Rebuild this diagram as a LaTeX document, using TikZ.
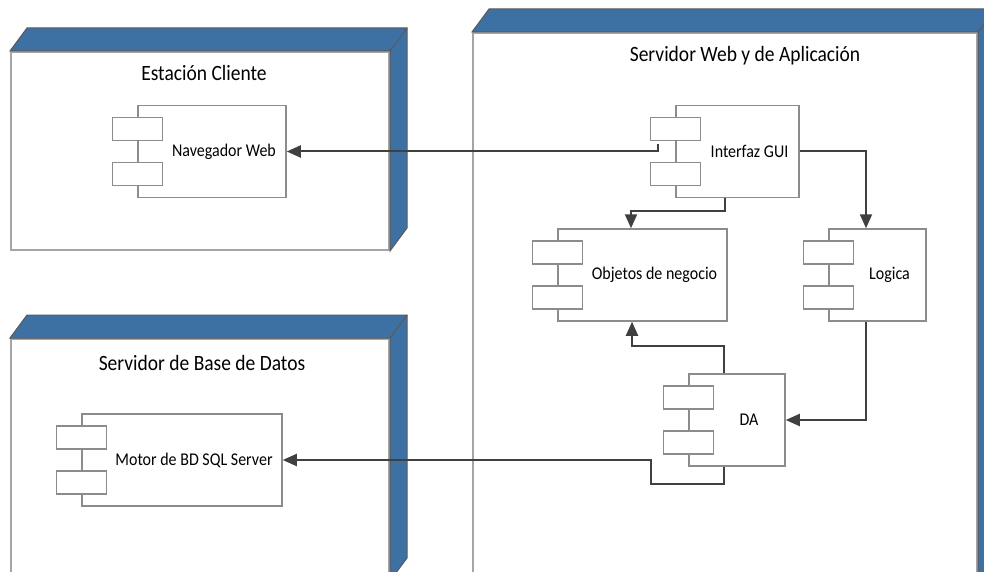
\documentclass[tikz,border=0pt]{standalone}
\usepackage{fontspec}
\setmainfont{Carlito}
\usetikzlibrary{arrows.meta,positioning}

\definecolor{nodeblue}{RGB}{61,112,163}
\definecolor{framegray}{RGB}{165,165,165}
\definecolor{edgegray}{RGB}{90,90,90}
\definecolor{compgray}{RGB}{140,140,140}
\definecolor{wiregray}{RGB}{64,64,64}

\tikzset{
  srvbox/.style={draw=framegray, line width=2pt, fill=white, inner sep=0pt},
  srvtitle/.style={font=\fontsize{19.5}{21}\selectfont, anchor=base, inner sep=0pt,
    yscale=1.12, transform shape},
  comp/.style={draw=compgray, line width=1.5pt, fill=white, inner sep=0pt, minimum height=92pt,
    label={[font=\fontsize{16}{18}\selectfont, xshift=12pt, yscale=1.12, transform shape]center:#1}},
  port/.style={draw=compgray, line width=1.5pt, fill=white, minimum width=50pt, minimum height=23pt, inner sep=0pt},
  wire/.style={draw=wiregray, line width=2pt, -{Triangle[length=14pt,width=12pt]}}
}

\begin{document}
\begin{tikzpicture}[x=1pt,y=-1pt]
\useasboundingbox (0,0) rectangle (984,572);
\clip (0,0) rectangle (984,572);

% nodos de despliegue
\node[srvbox, minimum width=378pt, minimum height=198pt] (cliente) at (200,151) {};
\node[srvbox, minimum width=504pt, minimum height=567pt] (web) at (725,316.5) {};
\node[srvbox, minimum width=378pt, minimum height=241pt] (bd) at (200,459.5) {};
\foreach \n in {cliente,web,bd}{
  \filldraw[fill=nodeblue, draw=edgegray, line width=1pt]
    (\n.north west) -- ++(17,-23) -- ([shift={(17,-23)}]\n.north east)
    -- ([shift={(17,-23)}]\n.south east) -- (\n.south east) -- (\n.north east) -- cycle;
  \draw[edgegray, line width=1pt] (\n.north east) -- ++(17,-23);
}
\node[srvtitle] (tcliente) at ([xshift=4pt,yshift=-30pt]cliente.north) {Estación Cliente};
\node[srvtitle] (tweb) at ([xshift=20pt,yshift=-30pt]web.north) {Servidor Web y de Aplicación};
\node[srvtitle] (tbd) at ([xshift=2pt,yshift=-32pt]bd.north) {Servidor de Base de Datos};

% componentes
\node[comp=Navegador Web, minimum width=148pt] (nav) at (212,151.5) {};
\node[comp=Interfaz GUI, minimum width=123pt] (gui) at (737.5,151.5) {};
\node[comp=Objetos de negocio, minimum width=169pt] (obj) at (642.5,275) {};
\node[comp=Logica, minimum width=97pt] (log) at (877.5,275) {};
\node[comp=DA, minimum width=96pt] (da) at (737,420) {};
\node[comp=Motor de BD SQL Server, minimum width=200pt] (motor) at (182,460) {};
\foreach \c in {nav,gui,obj,log,da,motor}{
  \node[port] at ([yshift=22.5pt]\c.west) {};
  \node[port] at ([yshift=-22.5pt]\c.west) {};
}

% dependencias
\coordinate (guiport) at (658,144);
\draw[wire] (guiport) |- (nav.east);
\draw[wire] ([xshift=-12.5pt]gui.south) -- ++(0,13) -| ([xshift=-11.5pt]obj.north);
\draw[wire] (gui.east) -| ([xshift=-11.5pt]log.north);
\draw[wire] ([xshift=-11.5pt]log.south) |- (da.east);
\draw[wire] ([xshift=-13pt]da.north) -- ++(0,-27) -| ([xshift=-10.5pt]obj.south);
\draw[wire] ([xshift=-13pt]da.south) -- ++(0,17) -- ++(-73,0) |- (motor.east);
\end{tikzpicture}
\end{document}
